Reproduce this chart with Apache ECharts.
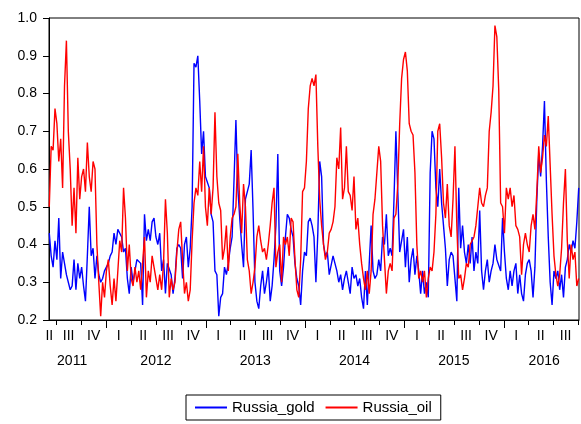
<!DOCTYPE html>
<html>
<head>
<meta charset="utf-8">
<script src="https://cdn.jsdelivr.net/npm/echarts@6/dist/echarts.min.js"></script>
<style>
html,body{margin:0;padding:0;background:#fff;}
#chart{width:581px;height:424px;}
</style>
</head>
<body>
<div id="chart"></div>
<script>
// Weekly observations starting 2011-06-05
const startDate = Date.UTC(2011, 5, 5);
const stepDays = 7;

const russiaGold = [
0.43,0.37,0.34,0.41,0.36,0.47,0.31,0.38,0.35,0.32,0.30,0.28,0.29,0.36,0.28,0.35,0.31,0.34,0.29,0.25,
0.37,0.50,0.37,0.39,0.31,0.37,0.32,0.30,0.31,0.33,0.34,0.35,0.37,0.38,0.43,0.40,0.44,0.44,0.42,0.38,
0.39,0.31,0.27,0.34,0.30,0.33,0.36,0.36,0.35,0.24,0.48,0.41,0.44,0.41,0.46,0.47,0.42,0.40,
0.43,0.33,0.36,0.27,0.35,0.35,0.32,0.27,0.31,0.39,0.40,0.39,0.31,0.40,0.42,0.34,0.39,0.50,0.88,0.87,
0.90,0.78,0.64,0.70,0.58,0.58,0.55,0.48,0.46,0.33,0.32,0.21,0.26,0.27,0.34,0.32,0.35,0.39,0.42,0.57,
0.73,0.55,0.47,0.40,0.34,0.52,0.52,0.56,0.65,0.49,0.30,0.25,0.23,0.29,0.33,0.27,0.30,0.34,
0.25,0.29,0.36,0.45,0.64,0.33,0.29,0.34,0.42,0.48,0.47,0.44,0.42,0.35,0.31,0.29,0.24,0.33,0.38,0.37,
0.46,0.47,0.45,0.42,0.30,0.43,0.62,0.58,0.40,0.37,0.38,0.32,0.32,0.37,0.35,0.33,0.30,0.32,0.28,0.31,
0.33,0.30,0.27,0.34,0.31,0.32,0.29,0.31,0.26,0.23,0.33,0.24,0.35,0.45,0.33,0.31,0.32,0.36,
0.33,0.42,0.40,0.48,0.37,0.39,0.37,0.52,0.70,0.54,0.38,0.38,0.44,0.34,0.42,0.30,0.36,0.39,0.32,0.37,
0.33,0.27,0.33,0.27,0.30,0.26,0.59,0.70,0.68,0.55,0.50,0.60,0.51,0.45,0.39,0.29,0.36,0.38,0.37,0.37,
0.25,0.55,0.39,0.45,0.38,0.35,0.40,0.35,0.42,0.33,0.38,0.35,0.49,0.33,0.28,
0.33,0.36,0.30,0.33,0.35,0.40,0.36,0.36,0.33,0.47,0.38,0.31,0.28,0.33,0.29,0.33,0.35,0.27,0.32,0.27,
0.25,0.32,0.35,0.36,0.33,0.26,0.34,0.52,0.64,0.58,0.66,0.78,0.57,0.42,0.30,0.24,0.33,0.31,0.33,0.28,
0.32,0.26,0.34,0.36,0.40,0.38,0.41,0.39,0.46,0.55
];

const russiaOil = [
0.50,0.66,0.65,0.76,0.72,0.62,0.68,0.55,0.82,0.94,0.70,0.60,0.45,0.55,0.43,0.63,0.52,0.58,0.60,0.54,
0.67,0.58,0.54,0.62,0.60,0.40,0.30,0.21,0.30,0.26,0.33,0.36,0.29,0.24,0.31,0.25,0.33,0.41,0.38,0.55,
0.47,0.33,0.40,0.31,0.29,0.34,0.30,0.33,0.28,0.35,0.42,0.26,0.33,0.30,0.37,0.34,0.31,0.28,
0.32,0.28,0.35,0.52,0.43,0.26,0.31,0.28,0.30,0.38,0.44,0.46,0.36,0.27,0.30,0.25,0.28,0.41,0.51,0.55,
0.53,0.62,0.54,0.66,0.50,0.45,0.55,0.48,0.55,0.75,0.58,0.51,0.49,0.36,0.39,0.45,0.33,0.42,0.47,0.48,
0.50,0.64,0.51,0.43,0.56,0.50,0.36,0.33,0.27,0.30,0.34,0.42,0.45,0.41,0.38,0.39,0.36,0.40,
0.45,0.51,0.55,0.34,0.38,0.40,0.30,0.42,0.40,0.42,0.37,0.47,0.46,0.36,0.28,0.26,0.36,0.54,0.55,0.62,
0.76,0.82,0.84,0.82,0.85,0.66,0.52,0.45,0.40,0.36,0.38,0.43,0.44,0.46,0.50,0.63,0.60,0.71,0.52,0.55,
0.66,0.54,0.53,0.49,0.58,0.44,0.47,0.40,0.35,0.31,0.28,0.33,0.27,0.33,0.48,0.52,0.52,0.66,
0.62,0.45,0.36,0.27,0.33,0.35,0.33,0.47,0.48,0.56,0.72,0.84,0.89,0.91,0.86,0.72,0.70,0.69,0.59,0.40,
0.31,0.33,0.30,0.33,0.26,0.31,0.34,0.33,0.38,0.48,0.70,0.72,0.63,0.51,0.47,0.56,0.45,0.42,0.52,0.66,
0.45,0.31,0.32,0.28,0.31,0.35,0.34,0.40,0.41,0.42,0.45,0.45,0.55,0.51,0.50,
0.53,0.55,0.70,0.75,0.82,0.98,0.95,0.81,0.51,0.50,0.43,0.55,0.52,0.55,0.50,0.53,0.45,0.44,0.42,0.32,
0.40,0.43,0.40,0.38,0.45,0.48,0.44,0.54,0.66,0.59,0.63,0.69,0.66,0.74,0.61,0.48,0.37,0.32,0.29,0.32,
0.39,0.51,0.60,0.41,0.31,0.40,0.36,0.38,0.29,0.31
];

const seriesNames = ['Russia_gold', 'Russia_oil'];
const quarterNames = ['I', 'II', 'III', 'IV'];

// axis range / tick positions (timestamps)
const axisMin = Date.UTC(2011, 5, 4);
const axisMax = Date.UTC(2016, 9, 3);
const quarterTicks = [];
const quarterLabelPos = [Date.UTC(2011, 5, 5)];
const yearTicks = [];
for (let y = 2011; y <= 2016; y++) {
  for (let q = 0; q < 4; q++) {
    const t = Date.UTC(y, q * 3, 1);
    if (t > axisMin && t <= axisMax) quarterTicks.push(t);
    const mid = Date.UTC(y, q * 3 + 1, 15);
    if (mid > Date.UTC(2011, 5, 30) && mid < axisMax) quarterLabelPos.push(mid);
  }
  const yt = Date.UTC(y, 0, 1);
  if (yt > axisMin && yt <= axisMax) yearTicks.push(yt);
}
const yearLabelPos = [Date.UTC(2011, 7, 28), Date.UTC(2012, 6, 1), Date.UTC(2013, 6, 1),
  Date.UTC(2014, 6, 1), Date.UTC(2015, 6, 1), Date.UTC(2016, 4, 28)];

const dates = russiaGold.map((_, i) => startDate + i * stepDays * 86400000);

const FONT = '"Liberation Sans", Arial, sans-serif';
const chart = echarts.init(document.getElementById('chart'), null, { renderer: 'canvas' });

chart.setOption({
  animation: false,
  backgroundColor: '#fff',
  textStyle: { fontFamily: FONT, color: '#000' },
  grid: { left: 49, right: 2, top: 18, bottom: 104, show: true, borderColor: '#000', borderWidth: 1, containLabel: false },
  legend: {
    data: seriesNames,
    left: 186, top: 395,
    orient: 'horizontal',
    borderColor: '#000', borderWidth: 1,
    padding: [5, 9, 5, 9],
    itemGap: 11,
    itemWidth: 32, itemHeight: 2,
    icon: 'rect',
    textStyle: { fontSize: 15, color: '#000', fontFamily: FONT }
  },
  xAxis: [
    {
      type: 'value', min: axisMin, max: axisMax, position: 'bottom',
      axisLine: { show: true, lineStyle: { color: '#000', width: 1 } },
      axisTick: { show: true, inside: false, length: 5, customValues: quarterTicks, lineStyle: { color: '#000' } },
      axisLabel: {
        customValues: quarterLabelPos, margin: 9, fontSize: 14, color: '#000', fontFamily: FONT,
        formatter: function (v) { const d = new Date(v); return quarterNames[Math.floor(d.getUTCMonth() / 3)]; }
      },
      splitLine: { show: false }
    },
    {
      type: 'value', min: axisMin, max: axisMax, position: 'bottom',
      axisLine: { show: false },
      axisTick: { show: true, inside: false, length: 8, customValues: yearTicks, lineStyle: { color: '#000' } },
      axisLabel: {
        customValues: yearLabelPos, margin: 34, fontSize: 14, color: '#000', fontFamily: FONT,
        formatter: function (v) { return String(new Date(v).getUTCFullYear()); }
      },
      splitLine: { show: false }
    }
  ],
  yAxis: {
    type: 'value', min: 0.2, max: 1.0, interval: 0.1,
    axisLine: { show: true, lineStyle: { color: '#000', width: 1 } },
    axisTick: { show: true, inside: false, length: 6, lineStyle: { color: '#000' } },
    axisLabel: { margin: 12, fontSize: 14, color: '#000', fontFamily: FONT, formatter: v => v.toFixed(1) },
    splitLine: { show: false }
  },
  series: [
    {
      name: seriesNames[0], type: 'line', showSymbol: false, symbol: 'none',
      lineStyle: { color: '#0000ff', width: 1.4 }, itemStyle: { color: '#0000ff' },
      data: dates.map((d, i) => [d, russiaGold[i]])
    },
    {
      name: seriesNames[1], type: 'line', showSymbol: false, symbol: 'none',
      lineStyle: { color: '#ff0000', width: 1.4 }, itemStyle: { color: '#ff0000' },
      data: dates.map((d, i) => [d, russiaOil[i]])
    }
  ]
});
</script>
</body>
</html>
